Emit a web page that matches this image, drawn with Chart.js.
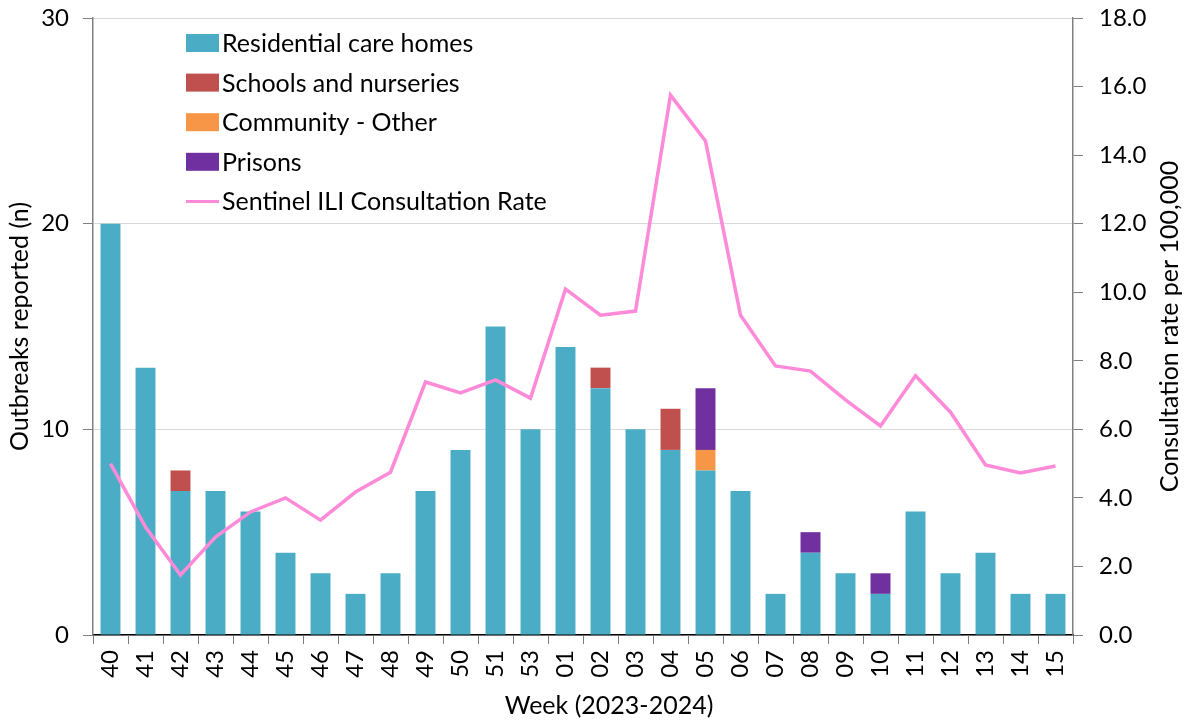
<!DOCTYPE html>
<html>
<head>
<meta charset="utf-8">
<script src="https://cdn.jsdelivr.net/npm/chart.js@4/dist/chart.umd.min.js"></script>
<style>
  html, body { margin: 0; padding: 0; background: #fff; }
  #wrap { width: 1184px; height: 721px; position: relative; }
</style>
</head>
<body>
<div id="wrap"><canvas id="c" width="1184" height="721"></canvas></div>
<script>
const weeks = ['40','41','42','43','44','45','46','47','48','49','50','51','53','01','02','03','04','05','06','07','08','09','10','11','12','13','14','15'];
const residential = [20,13,7,7,6,4,3,2,3,7,9,15,10,14,12,10,9,8,7,2,4,3,2,6,3,4,2,2];
const schools     = [0,0,1,0,0,0,0,0,0,0,0,0,0,0,1,0,2,0,0,0,0,0,0,0,0,0,0,0];
const community   = [0,0,0,0,0,0,0,0,0,0,0,0,0,0,0,0,0,1,0,0,0,0,0,0,0,0,0,0];
const prisons     = [0,0,0,0,0,0,0,0,0,0,0,0,0,0,0,0,0,3,0,0,1,0,1,0,0,0,0,0];
const iliRate     = [5.0,3.15,1.75,2.86,3.59,4.0,3.35,4.17,4.75,7.38,7.06,7.44,6.91,10.09,9.33,9.45,15.75,14.41,9.33,7.85,7.70,6.86,6.10,7.56,6.50,4.96,4.73,4.93];
const leftTicks = [0,10,20,30];
const rightTicks = [0,2,4,6,8,10,12,14,16,18];

const FONT = 'Lato, "Open Sans", sans-serif';
const FS = 24;
const FL = 25;
const colors = { res: '#4BACC6', sch: '#C0504D', com: '#F79646', pri: '#7030A0', ili: '#FF8AD8' };

const legendPlugin = {
  id: 'customLegendTitles',
  afterDraw(chart) {
    const ctx = chart.ctx;
    const area = chart.chartArea;
    ctx.save();
    ctx.font = FL + 'px ' + FONT;
    ctx.fillStyle = '#000';
    ctx.textBaseline = 'middle';
    ctx.textAlign = 'left';
    const order = [0,1,2,3,4];
    const x0 = 186, y0 = 43, step = 39.6;
    order.forEach((di, i) => {
      const ds = chart.data.datasets[di];
      const y = y0 + i * step;
      if (ds.type === 'line') {
        ctx.strokeStyle = ds.borderColor;
        ctx.lineWidth = 3;
        ctx.beginPath(); ctx.moveTo(x0, y); ctx.lineTo(x0 + 33, y); ctx.stroke();
      } else {
        ctx.fillStyle = ds.backgroundColor;
        ctx.fillRect(x0, y - 9, 33, 18);
      }
      ctx.fillStyle = '#000';
      ctx.fillText(ds.label, x0 + 36, y + 1);
    });
    // axis titles
    const cy = (area.top + area.bottom) / 2;
    ctx.textAlign = 'center';
    ctx.save();
    ctx.translate(20, cy); ctx.rotate(-Math.PI / 2);
    ctx.fillText('Outbreaks reported (n)', 0, 0);
    ctx.restore();
    ctx.save();
    ctx.translate(1170, cy); ctx.rotate(-Math.PI / 2);
    ctx.fillText('Consultation rate per 100,000', 0, 0);
    ctx.restore();
    ctx.fillText('Week (2023-2024)', 609, 706);
    ctx.restore();
  }
};

function noPad(s) { s.paddingTop = 0; s.paddingBottom = 0; }

new Chart(document.getElementById('c'), {
  type: 'bar',
  data: {
    labels: weeks,
    datasets: [
      { label: 'Residential care homes', data: residential, backgroundColor: colors.res, yAxisID: 'y', stack: 's', order: 1, borderWidth: 0 },
      { label: 'Schools and nurseries', data: schools, backgroundColor: colors.sch, yAxisID: 'y', stack: 's', order: 1, borderWidth: 0 },
      { label: 'Community - Other', data: community, backgroundColor: colors.com, yAxisID: 'y', stack: 's', order: 1, borderWidth: 0 },
      { label: 'Prisons', data: prisons, backgroundColor: colors.pri, yAxisID: 'y', stack: 's', order: 1, borderWidth: 0 },
      { type: 'line', label: 'Sentinel ILI Consultation Rate', data: iliRate, borderColor: colors.ili, backgroundColor: colors.ili, borderWidth: 3.5, pointRadius: 0, tension: 0, yAxisID: 'y1', order: 0 }
    ]
  },
  options: {
    responsive: false,
    animation: false,
    devicePixelRatio: 1,
    layout: { padding: { top: 18, left: 0, right: 0, bottom: 0 } },
    plugins: { legend: { display: false }, tooltip: { enabled: false } },
    datasets: { bar: { categoryPercentage: 1.0, barPercentage: 0.57 } },
    scales: {
      x: {
        stacked: true,
        afterFit(s) { s.height = 86; s.paddingLeft = 0; s.paddingRight = 0; },
        grid: { display: true, drawOnChartArea: false, drawTicks: true, tickLength: 9, tickColor: '#808080', offset: true },
        border: { display: true, color: '#000', width: 1.5 },
        ticks: { minRotation: 90, maxRotation: 90, autoSkip: false, padding: 6, color: '#000', font: { family: FONT, size: FS } }
      },
      y: {
        position: 'left', stacked: true, min: 0, max: 30,
        afterFit(s) { s.width = 93; noPad(s); },
        afterBuildTicks(s) { s.ticks = leftTicks.map(v => ({ value: v })); },
        grid: { color: '#d9d9d9', lineWidth: 1, drawTicks: true, tickLength: 10, tickColor: '#808080' },
        border: { display: true, color: '#808080', width: 1.5 },
        ticks: { padding: 14, color: '#000', font: { family: FONT, size: FS } }
      },
      y1: {
        position: 'right', min: 0, max: 18,
        afterFit(s) { s.width = 111; noPad(s); },
        afterBuildTicks(s) { s.ticks = rightTicks.map(v => ({ value: v })); },
        grid: { drawOnChartArea: false, drawTicks: true, tickLength: 10, tickColor: '#808080' },
        border: { display: true, color: '#808080', width: 1.5 },
        ticks: { padding: 16, color: '#000', font: { family: FONT, size: FS }, callback: v => Number(v).toFixed(1) }
      }
    }
  },
  plugins: [legendPlugin]
});
</script>
</body>
</html>
